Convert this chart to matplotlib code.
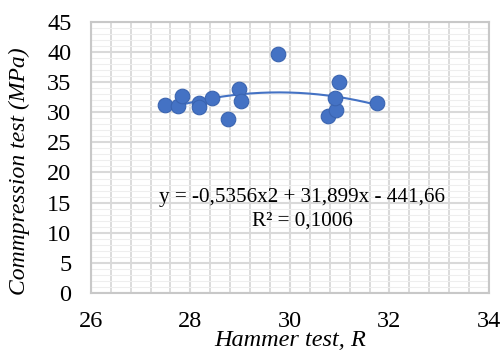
import matplotlib.pyplot as plt
import numpy as np
from matplotlib.ticker import MultipleLocator

plt.rcParams['font.family'] = ['Liberation Serif', 'DejaVu Serif']

# data
hammer = [27.48, 27.76, 27.83, 28.18, 28.17, 28.43, 28.75, 28.98, 29.01,
          29.77, 30.77, 30.93, 30.91, 30.99, 31.75]
compression = [31.2, 31.0, 32.7, 31.6, 30.8, 32.4, 28.8, 33.8, 31.9,
               39.6, 29.4, 30.3, 32.3, 35.1, 31.5]
fit_coef = [-0.5356, 31.899, -441.66]   # polynomial trendline shown on chart
eq_text = 'y = -0,5356x2 + 31,899x - 441,66'
r2_text = 'R² = 0,1006'

fig = plt.figure(figsize=(5.02, 3.53), dpi=100)
ax = fig.add_axes([0.181, 0.170, 0.793, 0.768])

xs = np.linspace(min(hammer), max(hammer), 200)
ax.plot(xs, np.polyval(fit_coef, xs), color='#4472C4', lw=1.5, zorder=3)
ax.plot(hammer, compression, 'o', ms=10.5, color='#4472C4',
        mec='#3A64B0', mew=0.8, zorder=4)

ax.set_xlim(26, 34)
ax.set_ylim(0, 45)
ax.xaxis.set_major_locator(MultipleLocator(2))
ax.xaxis.set_minor_locator(MultipleLocator(0.4))
ax.yaxis.set_major_locator(MultipleLocator(5))
ax.yaxis.set_minor_locator(MultipleLocator(1))
ax.grid(which='major', color='#D9D9D9', lw=1.5)
ax.xaxis.grid(which='minor', color='#D9D9D9', lw=1.3)
ax.yaxis.grid(which='minor', color='#EEEEEE', lw=0.8)
ax.set_axisbelow(True)
ax.tick_params(which='both', length=0, labelsize=17.5)
ax.tick_params(axis='y', pad=14)
ax.tick_params(axis='x', pad=13)
for s in ax.spines.values():
    s.set_color('#C8C8C8')
    s.set_linewidth(1.5)

ax.text(30.25, 15.8, eq_text, ha='center', va='center', fontsize=15.2)
ax.text(30.25, 11.9, r2_text, ha='center', va='center', fontsize=15.2)

ax.set_xlabel('Hammer test, R', fontsize=17.5, style='italic')
ax.xaxis.set_label_coords(0.5, -0.138)
ax.xaxis.label.set_va('top')
ax.set_ylabel('Commpression test (MPa)', fontsize=17, style='italic')
ax.yaxis.set_label_coords(-0.153, 0.45)

fig.savefig('out.png', dpi=100)
